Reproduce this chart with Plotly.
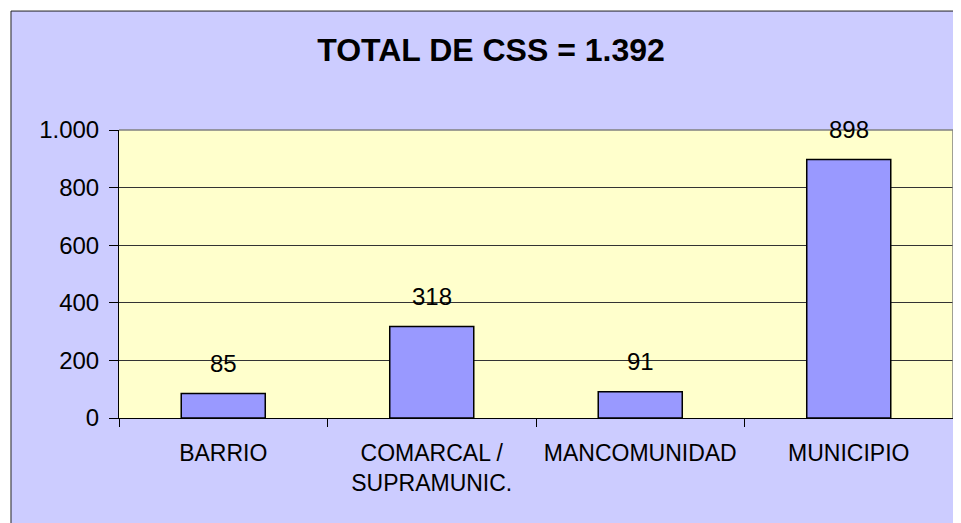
import plotly.graph_objects as go

# datos
categorias = ["BARRIO", "COMARCAL /<br>SUPRAMUNIC.", "MANCOMUNIDAD", "MUNICIPIO"]
valores = [85, 318, 91, 898]
etiquetas = ["85", "318", "91", "898"]
titulo = "TOTAL DE CSS = 1.392"
y_ticks = [0, 200, 400, 600, 800, 1000]
y_ticktext = ["0", "200", "400", "600", "800", "1.000"]

FUENTE = "Liberation Sans, Arial, sans-serif"

fig = go.Figure()
fig.add_trace(go.Bar(
    x=categorias, y=valores,
    marker=dict(color="#9999FF", line=dict(color="black", width=1.5)),
    hoverinfo="x+y",
))

# etiquetas de valor sobre las barras
for c, v, t in zip(categorias, valores, etiquetas):
    fig.add_annotation(x=c, y=v, text=t, showarrow=False, yanchor="middle",
                       yshift=30, font=dict(size=24, color="black", family=FUENTE))

# marco exterior del gráfico
fig.add_shape(type="rect", xref="paper", yref="paper",
              x0=-0.1295, x1=1.05, y0=-0.5, y1=1.413,
              fillcolor="#CCCCFF", line=dict(color="#222222", width=1), layer="below")
# fondo del área de trazado
fig.add_shape(type="rect", xref="paper", yref="paper", x0=0, x1=1, y0=0, y1=1,
              fillcolor="#FFFFCC", line=dict(width=0), layer="below")
# borde gris del área de trazado (arriba y derecha)
fig.add_shape(type="line", xref="paper", yref="paper", x0=0, x1=1, y0=1, y1=1,
              line=dict(color="#808080", width=1.5))
fig.add_shape(type="line", xref="paper", yref="paper", x0=1, x1=1, y0=0, y1=1,
              line=dict(color="#808080", width=1.5))

fig.update_layout(
    width=953, height=515,
    margin=dict(l=111, r=8, t=122, b=105),
    paper_bgcolor="white",
    plot_bgcolor="#FFFFCC",
    bargap=0.597,
    showlegend=False,
    font=dict(family=FUENTE, size=23, color="black"),
    title=dict(text="<b>" + titulo + "</b>", xref="container", yref="container",
               x=483 / 953, y=1 - 42 / 515, xanchor="center", yanchor="middle",
               font=dict(size=32, color="black", family=FUENTE)),
)
fig.update_xaxes(
    type="category", showgrid=False, showline=True, linecolor="black", linewidth=1,
    ticks="outside", tickson="boundaries", ticklen=8, tickcolor="black",
    ticklabelstandoff=14, tickfont=dict(size=23),
)
fig.update_yaxes(
    range=[0, 1000], tickvals=y_ticks, ticktext=y_ticktext,
    showgrid=True, gridcolor="#333333", gridwidth=1, zeroline=False,
    showline=True, linecolor="black", linewidth=1,
    ticks="outside", ticklen=9, tickcolor="black", ticklabelstandoff=5,
    tickfont=dict(size=24),
)

fig.write_html("out.html")
